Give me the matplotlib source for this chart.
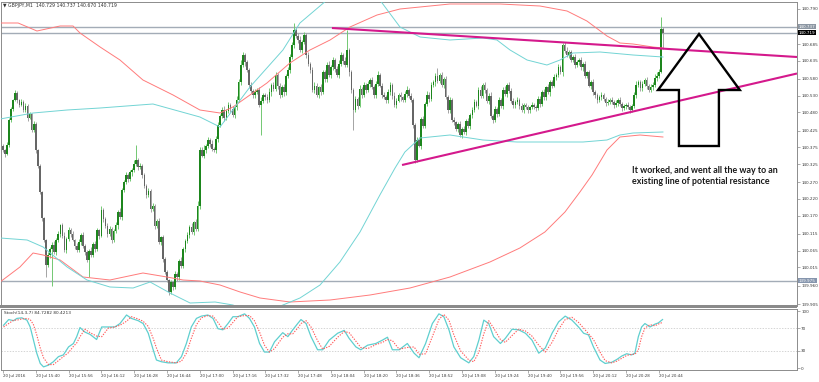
import matplotlib
matplotlib.use("Agg")
import matplotlib.pyplot as plt
import numpy as np
import matplotlib.transforms as mtransforms
from matplotlib.patches import Polygon, Rectangle

# ---------------- data ----------------
symbol_title = "\u25BC GBPJPY,M1  140.729 140.737 140.670 140.719"
stoch_title = "Stoch(14,3,7) 84.7282 80.4213"
base_price = 139.900          # closes / wicks below are in 0.001 above this

first_open = 480
closes = [
    467, 455, 482, 557, 590, 617, 638, 617, 602, 612,
    587, 600, 563, 575, 527, 545, 467, 420, 340, 262,
    197, 122, 152, 170, 182, 160, 197, 215, 242, 210,
    167, 200, 227, 215, 197, 180, 167, 190, 212, 180,
    160, 137, 165, 152, 185, 170, 227, 210, 287, 260,
    240, 215, 230, 197, 225, 242, 280, 265, 347, 370,
    392, 380, 400, 407, 425, 437, 415, 420, 392, 360,
    332, 345, 290, 300, 240, 255, 190, 205, 140, 100,
    77, 41, 70, 55, 95, 85, 135, 120, 170, 195,
    212, 235, 220, 250, 230, 300, 467, 450, 467, 480,
    497, 485, 470, 467, 500, 542, 570, 587, 563, 585,
    602, 590, 572, 595, 617, 670, 722, 752, 730, 707,
    662, 645, 632, 640, 647, 602, 615, 632, 625, 617,
    640, 662, 650, 692, 660, 632, 655, 640, 690, 707,
    745, 782, 827, 810, 797, 767, 790, 812, 752, 725,
    707, 647, 660, 632, 655, 640, 700, 680, 722, 692,
    715, 737, 710, 692, 725, 752, 735, 722, 767, 700,
    647, 587, 620, 600, 650, 632, 662, 647, 665, 677,
    655, 632, 665, 692, 660, 632, 625, 617, 640, 662,
    630, 602, 615, 632, 625, 617, 635, 647, 630, 617,
    542, 437, 497, 480, 560, 540, 605, 632, 620, 662,
    670, 690, 675, 692, 662, 680, 625, 587, 617, 557,
    550, 530, 545, 512, 530, 520, 555, 540, 572, 587,
    610, 600, 648, 630, 662, 647, 615, 630, 570, 557,
    590, 575, 617, 600, 647, 635, 662, 645, 615, 602,
    610, 617, 600, 587, 602, 595, 587, 595, 602, 597,
    593, 620, 605, 640, 625, 655, 640, 670, 660, 685,
    692, 715, 700, 782, 765, 752, 760, 737, 745, 722,
    730, 737, 715, 725, 690, 700, 660, 672, 640, 632,
    617, 625, 632, 620, 608, 612, 617, 610, 602, 608,
    617, 605, 593, 598, 602, 595, 587, 600, 632, 662,
    670, 653, 665, 677, 660, 647, 655, 662, 683, 690,
    701, 829, 819,
]
hi_ext = [
    6, 4, 8, 5, 7, 4, 9, 6, 3, 8, 5, 7, 4, 6, 3, 8, 5, 4, 6, 3,
    5, 4, 10, 6, 8, 12, 5, 9, 4, 7, 11, 6, 8, 5, 10, 4, 7, 9, 5, 8,
    6, 8, 4, 10, 5, 9, 7, 4, 11, 6, 5, 8, 10, 6, 4, 9, 7, 12, 6, 8,
    10, 5, 8, 6, 12, 45, 7, 9, 4, 6, 5, 8, 4, 7, 5, 6, 9, 4, 7, 5,
    6, 4, 8, 5, 9, 6, 4, 10, 7, 5, 8, 6, 12, 5, 9, 15, 10, 8, 14, 6,
    9, 5, 12, 7, 8, 10, 6, 9, 11, 5, 8, 7, 10, 6, 12, 9, 14, 10, 6, 8,
    7, 10, 5, 9, 6, 8, 11, 7, 5, 9, 12, 6, 8, 10, 5, 9, 7, 11, 6, 8,
    10, 8, 21, 6, 9, 12, 7, 10, 5, 8, 6, 9, 11, 7, 5, 10, 8, 6, 9, 12,
    7, 10, 6, 9, 12, 8, 5, 10, 60, 6, 8, 5, 9, 7, 11, 6, 8, 5, 10, 7,
    9, 6, 8, 11, 5, 7, 10, 6, 9, 8, 5, 10, 7, 6, 9, 5, 8, 11, 6, 7,
    5, 6, 8, 10, 7, 9, 6, 11, 8, 10, 7, 9, 24, 6, 8, 5, 10, 7, 9, 6,
    8, 5, 7, 9, 6, 10, 5, 8, 7, 9, 11, 6, 8, 12, 7, 9, 5, 8, 10, 6,
    9, 7, 10, 6, 8, 12, 5, 9, 7, 8, 6, 10, 5, 9, 7, 6, 8, 5, 9, 7,
    6, 8, 10, 7, 9, 5, 11, 8, 6, 9, 7, 10, 8, 6, 9, 12, 7, 8, 6, 10,
    8, 6, 9, 7, 10, 5, 8, 6, 9, 7, 5, 8, 10, 6, 7, 9, 5, 8, 6, 10,
    7, 9, 5, 8, 6, 10, 7, 5, 9, 12, 8, 6, 10, 7, 9, 5, 11, 8, 12, 10,
    9, 37, 8,
]
lo_ext = [
    5, 8, 4, 6, 5, 7, 3, 8, 6, 4, 7, 5, 8, 4, 6, 5, 9, 6, 4, 8,
    7, 36, 6, 9, 110, 5, 8, 6, 10, 7, 5, 9, 6, 8, 4, 10, 7, 5, 9, 6,
    8, 6, 51, 7, 5, 9, 6, 10, 5, 8, 7, 10, 6, 9, 5, 8, 12, 6, 9, 7,
    6, 9, 5, 10, 7, 6, 8, 5, 10, 7, 9, 6, 8, 5, 10, 7, 6, 9, 8, 6,
    7, 9, 6, 8, 5, 10, 7, 6, 8, 9, 6, 10, 5, 8, 7, 6, 9, 5, 8, 10,
    6, 9, 7, 5, 10, 8, 6, 7, 9, 5, 8, 10, 6, 9, 7, 5, 8, 6, 10, 7,
    9, 6, 8, 10, 5, 7, 90, 6, 8, 9, 5, 10, 7, 6, 9, 8, 5, 10, 7, 6,
    8, 6, 9, 7, 10, 5, 8, 6, 9, 7, 10, 6, 8, 5, 9, 7, 6, 10, 8, 5,
    9, 7, 10, 6, 8, 5, 9, 7, 6, 10, 8, 60, 7, 9, 5, 8, 6, 10, 7, 9,
    6, 8, 10, 7, 5, 9, 6, 8, 10, 7, 9, 6, 8, 5, 10, 7, 6, 9, 8, 5,
    8, 9, 7, 5, 10, 6, 8, 7, 9, 5, 6, 10, 7, 8, 5, 9, 6, 10, 8, 7,
    9, 6, 10, 7, 8, 5, 9, 6, 10, 8, 7, 5, 9, 6, 8, 10, 7, 9, 6, 8,
    7, 10, 6, 8, 9, 5, 10, 7, 6, 9, 8, 5, 10, 7, 9, 6, 8, 10, 5, 7,
    10, 6, 8, 5, 9, 7, 6, 10, 8, 5, 9, 7, 6, 10, 8, 5, 9, 7, 6, 8,
    5, 9, 7, 10, 6, 8, 5, 9, 7, 10, 8, 6, 9, 5, 10, 7, 8, 6, 9, 5,
    8, 7, 10, 6, 9, 5, 8, 6, 7, 9, 5, 10, 8, 6, 9, 7, 5, 8, 6, 9,
    7, 3, 49,
]

# bands (bar index, price)
red_up_x = [-1.4, 7.4, 16.6, 27.9, 34.2, 37.6, 47.4, 57.1, 68.3, 83.0, 96.1, 105.9, 112.2, 128.8, 140.0,
            149.8, 159.6, 169.3, 182.5, 193.7, 218.1, 242.5, 262.0, 275.2, 284.9, 294.7, 301.0, 307.4, 317.1, 322.0]
red_up_y = [140.748, 140.748, 140.724, 140.739, 140.739, 140.718, 140.676, 140.637, 140.577, 140.532, 140.487,
            140.478, 140.496, 140.568, 140.628, 140.667, 140.697, 140.736, 140.772, 140.790, 140.805, 140.805,
            140.799, 140.784, 140.754, 140.709, 140.688, 140.685, 140.676, 140.673]
red_lo_x = [-1.4, 8.3, 14.7, 19.6, 27.9, 39.1, 52.2, 68.3, 80.0, 87.9, 96.1, 105.9, 115.7, 125.4, 140.0, 159.6,
            179.1, 198.6, 218.1, 237.6, 252.2, 264.4, 274.2, 281.5, 287.4, 294.7, 301.0, 310.8, 322.0]
red_lo_y = [139.971, 140.016, 140.058, 140.052, 140.037, 139.986, 139.977, 139.998, 139.986, 139.977, 139.974,
            139.962, 139.941, 139.923, 139.911, 139.917, 139.932, 139.953, 139.986, 140.031, 140.073, 140.121,
            140.181, 140.241, 140.292, 140.367, 140.406, 140.412, 140.406]
cy_up_x = [-1.4, 14.7, 31.3, 47.4, 73.2, 96.1, 105.9, 120.5, 136.6, 144.9, 158.1, 169.3, 183.9, 193.7, 203.5,
           218.1, 234.2, 241.0, 247.4, 255.7, 265.4, 271.8, 278.1, 291.3, 307.4, 322.0]
cy_up_y = [140.460, 140.478, 140.487, 140.493, 140.505, 140.466, 140.436, 140.556, 140.667, 140.748, 140.817,
           140.853, 140.817, 140.736, 140.706, 140.697, 140.703, 140.697, 140.667, 140.637, 140.622, 140.637,
           140.658, 140.661, 140.652, 140.646]
cy_lo_x = [-1.4, 11.8, 19.6, 31.3, 41.0, 52.2, 63.5, 71.8, 81.5, 91.3, 103.5, 112.2, 120.5, 130.3, 136.6, 144.9,
           154.7, 164.4, 174.2, 183.9, 191.3, 196.1, 203.5, 218.1, 234.2, 250.8, 266.9, 283.0, 294.7, 301.0,
           307.4, 322.0]
cy_lo_y = [140.103, 140.097, 140.076, 140.016, 139.977, 139.956, 139.953, 139.971, 139.938, 139.908, 139.911,
           139.902, 139.881, 139.887, 139.902, 139.923, 139.962, 140.031, 140.121, 140.232, 140.313, 140.361,
           140.403, 140.412, 140.397, 140.391, 140.391, 140.391, 140.397, 140.412, 140.418, 140.421]

# horizontal price lines
hlines = [140.737, 140.719, 139.975]
hline_labels = ["140.737", "140.719", "139.975"]
hline_box = ["#8c97a3", "#000000", "#8595ad"]

# trend lines (bar index, price)
trend_up_x = [160.5, 387.4]
trend_up_y = [140.733, 140.646]
trend_lo_x = [194.7, 387.4]
trend_lo_y = [140.322, 140.5965]

# hand drawn arrow outline (bar index, price)
arrow_x = [339.6, 319.6, 329.8, 329.8, 349.3, 349.3, 359.5]
arrow_y = [140.715, 140.547, 140.547, 140.379, 140.379, 140.547, 140.547]
note_x, note_y = 306.9, 140.289
note_text = "It worked, and went all the way to an\nexisting line of potential resistance"

# stochastic (bar index, value)
stoch_x = [0.3, 2.8, 5.2, 6.8, 9.2, 11.7, 13.3, 14.9, 16.5, 18.2, 19.8, 22.2, 24.6, 27.1, 29.5, 32, 34.4, 36,
           37.6, 40, 42.5, 45.7, 48.2, 51.4, 54.6, 57.1, 60.3, 62.7, 66, 68.4, 70.9, 73.3, 74.9, 77.3, 80.6,
           84.6, 87.1, 89.5, 91.9, 94.4, 96.8, 100, 102.5, 104.9, 107.3, 109.8, 112.2, 114.6, 117.9, 120.3,
           122.7, 125.2, 127.6, 130, 132.5, 136.5, 139, 141.4, 143.8, 145.4, 147.9, 150.3, 153.5, 156, 159.2,
           163.3, 166.5, 168.9, 172.2, 174.6, 177.9, 181.9, 185.2, 187.6, 190, 193.3, 197.3, 200.6, 203,
           206.2, 209.5, 212.7, 215.1, 217.6, 220, 223.3, 227.3, 229.7, 232.2, 234.6, 237, 239.4, 242.7,
           245.1, 248.4, 251.6, 254.9, 258.1, 261.4, 264.6, 267.9, 271.1, 274.3, 277.6, 280.8, 283.3, 285.7,
           288.1, 291.3, 293.8, 297, 299.5, 301.9, 304.3, 306.7, 308.3, 310, 311.6, 313.2, 315.7, 318.1,
           319.7, 321.8]
stoch_k = [75, 85, 83, 87, 88, 84, 72, 49, 26, 8, 2, 5, 11, 20, 23, 37, 43, 55, 71, 63, 59, 50, 72, 72, 72,
           78, 93, 87, 83, 78, 61, 32, 14, 11, 9, 9, 20, 43, 72, 87, 91, 93, 87, 69, 67, 78, 90, 90, 95, 87,
           72, 43, 28, 28, 46, 62, 55, 67, 78, 85, 78, 55, 32, 32, 49, 61, 66, 52, 37, 32, 40, 43, 49, 54, 32,
           32, 43, 26, 18, 43, 78, 95, 90, 67, 37, 18, 9, 20, 49, 84, 78, 55, 43, 52, 68, 67, 61, 49, 26, 35,
           61, 81, 91, 84, 72, 61, 58, 37, 14, 8, 10, 15, 21, 25, 23, 26, 55, 72, 78, 72, 77, 79, 85]
stoch_d = [72, 78, 84, 84, 86, 87, 85, 76, 58, 35, 18, 6, 6, 13, 20, 27, 38, 44, 55, 68, 62, 56, 55, 70, 72,
           75, 82, 90, 86, 82, 73, 52, 35, 14, 11, 9, 12, 26, 52, 76, 88, 92, 91, 80, 68, 70, 80, 90, 92, 92,
           83, 63, 40, 28, 34, 54, 60, 60, 70, 78, 83, 72, 48, 33, 38, 54, 64, 62, 47, 36, 34, 41, 45, 50, 48,
           33, 36, 37, 24, 25, 55, 85, 94, 84, 58, 30, 14, 11, 28, 60, 83, 70, 50, 45, 57, 68, 65, 56, 40, 28,
           45, 68, 85, 89, 80, 70, 60, 50, 28, 13, 9, 12, 17, 22, 24, 24, 32, 55, 70, 76, 74, 77, 80]

# axes ticks
price_ticks = [140.790, 140.685, 140.635, 140.580, 140.530, 140.480, 140.425, 140.375, 140.325, 140.270,
               140.220, 140.170, 140.115, 140.065, 140.015, 139.960, 139.905]
time_tick_pos = [0, 16, 32, 48, 64, 80, 96, 112, 128, 144, 160, 176, 192, 208, 224, 240, 256, 272, 288, 304, 320]
time_tick_labels = ["20 Jul 2016", "20 Jul 15:40", "20 Jul 15:56", "20 Jul 16:12", "20 Jul 16:28",
                    "20 Jul 16:44", "20 Jul 17:00", "20 Jul 17:16", "20 Jul 17:32", "20 Jul 17:48",
                    "20 Jul 18:04", "20 Jul 18:20", "20 Jul 18:36", "20 Jul 18:52", "20 Jul 19:08",
                    "20 Jul 19:24", "20 Jul 19:40", "20 Jul 19:56", "20 Jul 20:12", "20 Jul 20:28",
                    "20 Jul 20:44"]
stoch_ticks = [0, 30, 70, 100]

# ---------------- figure ----------------
plt.rcParams['font.family'] = ['DejaVu Sans']
W, H = 820, 382
fig = plt.figure(figsize=(W / 100, H / 100), dpi=100)
fig.patch.set_facecolor('white')


def fx(px):
    return px / W


def fy(py):
    return 1 - py / H


ax = fig.add_axes([fx(1.5), fy(306), fx(797) - fx(1.5), fy(1.5) - fy(306)])
axs = fig.add_axes([fx(1.5), fy(370), fx(797) - fx(1.5), fy(308.5) - fy(370)])

spine_c = '#8c8c8c'
lab_c = '#3a3a3a'
for a in (ax, axs):
    a.set_facecolor('white')
    for s in a.spines.values():
        s.set_color(spine_c)
        s.set_linewidth(0.7)
    a.set_xlim(-0.7, 387.4)
ax.spines['bottom'].set_visible(False)

ax.set_ylim(139.899, 140.8125)
axs.set_ylim(-3.5, 104.4)

# horizontal lines
for p in hlines:
    ax.axhline(p, color='#a3acb7', lw=1.0, zorder=1)

# candles
n = min(len(closes), len(hi_ext), len(lo_ext))
c = base_price + np.array(closes[:n]) / 1000.0
o = np.concatenate([[base_price + first_open / 1000.0], c[:-1]])
hi = np.maximum(o, c) + np.array(hi_ext[:n]) / 1000.0
lo = np.minimum(o, c) - np.array(lo_ext[:n]) / 1000.0
idx = np.arange(n)
up = c >= o
dn = ~up
body_h = np.where(np.abs(c - o) < 0.0015, 0.0015, np.abs(c - o))
body_b = np.minimum(o, c)

ax.vlines(idx[up], lo[up], hi[up], color='#72c872', lw=0.7, zorder=2)
ax.vlines(idx[dn], lo[dn], hi[dn], color='#a4a4a4', lw=0.7, zorder=2)
ax.bar(idx[up], body_h[up], bottom=body_b[up], width=0.8, color='#1d861d', lw=0, zorder=3)
ax.bar(idx[dn], body_h[dn], bottom=body_b[dn], width=0.8, color='#666666', lw=0, zorder=3)

# bands
ax.plot(red_up_x, red_up_y, color='#ff7b7b', lw=0.7, zorder=4)
ax.plot(red_lo_x, red_lo_y, color='#ff7b7b', lw=0.7, zorder=4)
ax.plot(cy_up_x, cy_up_y, color='#72d4d4', lw=0.7, zorder=4)
ax.plot(cy_lo_x, cy_lo_y, color='#72d4d4', lw=0.7, zorder=4)

# trend lines
ax.plot(trend_up_x, trend_up_y, color='#d4198c', lw=1.5, zorder=5, solid_capstyle='butt')
ax.plot(trend_lo_x, trend_lo_y, color='#d4198c', lw=1.5, zorder=5, solid_capstyle='butt')

# arrow
ax.add_patch(Polygon(np.column_stack([arrow_x, arrow_y]), closed=True, fill=False,
                     edgecolor='black', lw=1.7, zorder=6, joinstyle='miter'))

ax.text(note_x, note_y, note_text, fontsize=6.4, fontweight='bold', family=['Lato', 'DejaVu Sans'],
        color='#1a1a1a', ha='left', va='center', linespacing=1.35, zorder=7)

# right axis
ax.yaxis.tick_right()
ax.set_yticks(price_ticks)
ax.set_yticklabels(["%.3f" % p for p in price_ticks])
ax.tick_params(axis='y', length=2, width=0.5, color=spine_c, labelsize=3.0, labelcolor=lab_c, pad=1)
ax.set_xticks([])

trans = mtransforms.blended_transform_factory(ax.transAxes, ax.transData)
for p, lab, bc in zip(hlines, hline_labels, hline_box):
    ax.text(1.0025, p, lab, transform=trans, fontsize=3.0, color='white', ha='left', va='center',
            bbox=dict(boxstyle='square,pad=0.18', fc=bc, ec='none'), clip_on=False, zorder=8)

# stochastic pane
for lv in (70, 30):
    axs.axhline(lv, color='#c4c4c4', lw=0.5, ls=(0, (2, 2)))
axs.plot(stoch_x, stoch_k, color='#5fcfcf', lw=0.9, zorder=3)
axs.plot(stoch_x, stoch_d, color='#ff5c5c', lw=0.8, ls=(0, (1.2, 1.2)), zorder=4)
axs.yaxis.tick_right()
axs.set_yticks(stoch_ticks)
axs.set_yticklabels([str(t) for t in stoch_ticks])
axs.tick_params(axis='y', length=2, width=0.5, color=spine_c, labelsize=3.0, labelcolor=lab_c, pad=1)
axs.set_xticks(time_tick_pos)
axs.set_xticklabels(time_tick_labels, ha='left')
axs.tick_params(axis='x', length=2, width=0.5, color=spine_c, labelsize=2.9, labelcolor=lab_c, pad=1)

# pane separator
fig.add_artist(Rectangle((fx(0), fy(307.8)), fx(797) - fx(0), fy(305.3) - fy(307.8),
                         transform=fig.transFigure, facecolor='#8a8a8a', edgecolor='none'))

fig.text(fx(3), fy(5.5), symbol_title, fontsize=3.3, color='#303030', va='center', ha='left')
fig.text(fx(4), fy(312.5), stoch_title, fontsize=3.1, color='#303030', va='center', ha='left')

fig.savefig('out.png', dpi=100, facecolor='white')
